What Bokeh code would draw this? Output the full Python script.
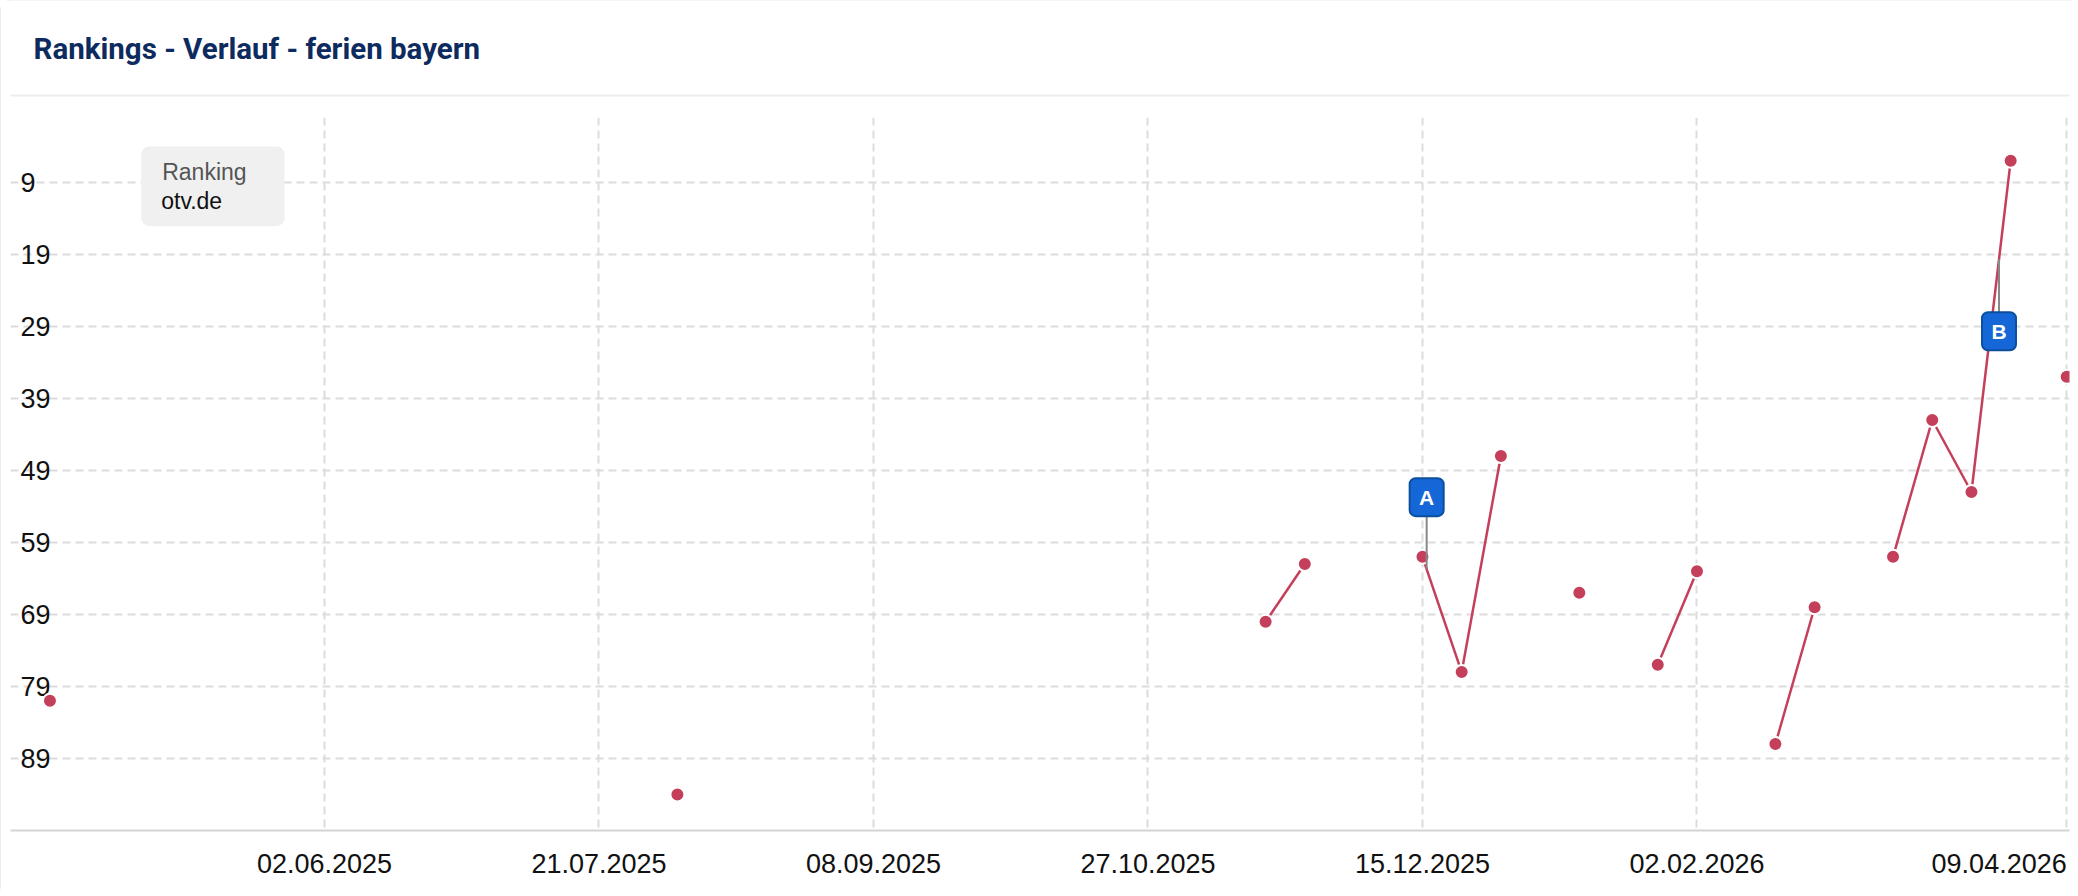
import calendar
from datetime import datetime
from bokeh.plotting import figure
from bokeh.models import Range1d, FixedTicker, Label, BoxAnnotation
from bokeh.core.properties import value
from bokeh.embed import file_html
from bokeh.resources import INLINE

# ---------------- data ----------------
title_text = "Rankings - Verlauf - ferien bayern"
legend_title = "Ranking"
legend_domain = "otv.de"

dates = ["2025-04-14", "2025-08-04", "2025-11-17", "2025-11-24", "2025-12-15",
         "2025-12-22", "2025-12-29", "2026-01-12", "2026-01-26", "2026-02-02",
         "2026-02-16", "2026-02-23", "2026-03-09", "2026-03-16", "2026-03-23",
         "2026-03-30", "2026-04-09"]
ranks = [81, 94, 70, 62, 61, 77, 47, 66, 76, 63, 87, 68, 61, 42, 52, 6, 36]

x_tick_dates = ["2025-06-02", "2025-07-21", "2025-09-08", "2025-10-27",
                "2025-12-15", "2026-02-02", "2026-04-09"]
x_tick_labels = ["02.06.2025", "21.07.2025", "08.09.2025", "27.10.2025",
                 "15.12.2025", "02.02.2026", "09.04.2026"]
y_ticks = [9, 19, 29, 39, 49, 59, 69, 79, 89]
y_tick_labels = ["9", "19", "29", "39", "49", "59", "69", "79", "89"]

flag_dates = ["2025-12-15 18:00", "2026-03-27 22:00"]
flag_letters = ["A", "B"]
flag_side = ["above", "below"]

# ---------------- helpers ----------------
def to_dt(s):
    fmt = "%Y-%m-%d %H:%M" if " " in s else "%Y-%m-%d"
    return datetime.strptime(s, fmt)

def to_ms(d):
    return calendar.timegm(d.timetuple()) * 1000

dts = [to_dt(s) for s in dates]
tick_dts = [to_dt(s) for s in x_tick_dates]
tick_ms = [to_ms(d) for d in tick_dts]

# ---------------- layout ----------------
W, H = 2078, 896
B_LEFT, B_RIGHT, B_BOTTOM = 10, 9, 66
HEADER = 117                     # data area starts this far below canvas top
Y_MIN, Y_MAX = 0, 99
plot_h = H - B_BOTTOM - HEADER
ppr = plot_h / (Y_MAX - Y_MIN)   # pixels per rank
y_top = Y_MIN - HEADER / ppr     # frame extends up to canvas top (header inside)

x_start = datetime(2025, 4, 6, 23)
x_end = datetime(2026, 4, 9, 12)
frame_w = W - B_LEFT - B_RIGHT

RED = "#c4405a"
GRID = "#dcdcdc"
LABEL_PX = 27
TXT_DY = 9   # label baseline correction (px)

p = figure(width=W, height=H, output_backend="svg", toolbar_location=None,
           x_axis_type="datetime", y_axis_location=None, title=None,
           x_range=Range1d(x_start, x_end), y_range=Range1d(Y_MAX, y_top),
           min_border_left=B_LEFT, min_border_right=B_RIGHT,
           min_border_top=0, min_border_bottom=B_BOTTOM)
p.outline_line_color = None
p.background_fill_color = "white"
p.border_fill_color = "white"
p.styles = {"border-radius": "10px", "box-shadow": "inset 0 0 0 1px #e6e6e6"}

# x axis: label of the last tick is right-aligned to its grid line,
# so its label anchor is shifted left by half the label width
span_ms = (x_end - x_start).total_seconds() * 1000
ms_per_px = span_ms / frame_w
last_label_w = 5.004 * LABEL_PX
label_pos = tick_ms[:-1] + [tick_ms[-1] - last_label_w / 2 * ms_per_px]
p.xaxis.ticker = FixedTicker(ticks=label_pos)
p.xaxis.major_label_overrides = {pos: lab for pos, lab in zip(label_pos, x_tick_labels)}
p.xaxis.axis_line_color = "#d4d4d4"
p.xaxis.axis_line_width = 2
p.xaxis.major_tick_line_color = None
p.xaxis.minor_tick_line_color = None
p.xaxis.major_label_text_font = "Liberation Sans"
p.xaxis.major_label_text_font_size = f"{LABEL_PX}px"
p.xaxis.major_label_text_color = "#111111"
p.xaxis.major_label_standoff = 17

p.xgrid.ticker = FixedTicker(ticks=tick_ms)
p.xgrid.grid_line_color = GRID
p.xgrid.grid_line_width = 2
p.xgrid.grid_line_dash = "8 5"
p.ygrid.ticker = FixedTicker(ticks=y_ticks)
p.ygrid.grid_line_color = GRID
p.ygrid.grid_line_width = 2
p.ygrid.grid_line_dash = "8 5"

# y tick labels inside the plot area
p.text(x=[x_start] * len(y_ticks), y=y_ticks, text=y_tick_labels,
       x_offset=10, text_align="left", text_baseline="middle",
       text_font=value("Liberation Sans"), text_font_size=f"{LABEL_PX}px",
       text_color="#111111")

# series: weekly points, lines only between consecutive weeks
segs_x, segs_y = [[dts[0]]], [[ranks[0]]]
for i in range(1, len(dts)):
    if (dts[i] - dts[i - 1]).days > 7:
        segs_x.append([])
        segs_y.append([])
    segs_x[-1].append(dts[i])
    segs_y[-1].append(ranks[i])
segs_x = [s for s, t in zip(segs_x, segs_y) if len(t) > 1]
segs_y = [t for t in segs_y if len(t) > 1]
p.multi_line(xs=segs_x, ys=segs_y, line_color=RED, line_width=2.5)
p.scatter(x=dts, y=ranks, size=14, fill_color=RED, line_color="white", line_width=2)

# flags on series
def series_at(d):
    for i in range(len(dts) - 1):
        if dts[i] <= d <= dts[i + 1]:
            f = (d - dts[i]).total_seconds() / (dts[i + 1] - dts[i]).total_seconds()
            return ranks[i] + (ranks[i + 1] - ranks[i]) * f
    return ranks[-1]

STEM = 53
BOX_W, BOX_H = 34, 38
fx, fy0, fy1, fby = [], [], [], []
for ds, side in zip(flag_dates, flag_side):
    d = to_dt(ds)
    ys = series_at(d)
    sgn = -1 if side == "above" else 1
    fx.append(d)
    fy0.append(ys)
    fy1.append(ys + sgn * STEM / ppr)
    fby.append(ys + sgn * (STEM + BOX_H / 2) / ppr)

p.segment(x0=fx, y0=fy0, x1=fx, y1=fy1, line_color="#888888", line_width=2)
p.rect(x=fx, y=fby, width=BOX_W, height=BOX_H, width_units="screen",
       height_units="screen", fill_color="#1566d6", line_color="#0c4f9c",
       line_width=2, border_radius=6)
p.text(x=fx, y=fby, text=flag_letters, text_align="center", text_baseline="middle",
       text_color="white", text_font=value("Liberation Sans"),
       text_font_style="bold", text_font_size="21px")

# header (inside the frame, covers the grid there): white panel, separator, title
p.add_layout(BoxAnnotation(left=0, right=W, top=0, bottom=HEADER,
                           left_units="canvas", right_units="canvas",
                           top_units="canvas", bottom_units="canvas",
                           fill_color="white", fill_alpha=1, line_color=None))
p.add_layout(BoxAnnotation(left=0, right=W, top=94, bottom=96,
                           left_units="canvas", right_units="canvas",
                           top_units="canvas", bottom_units="canvas",
                           fill_color="#eeeeee", fill_alpha=1, line_color=None))
p.add_layout(Label(x=33, y=57.3 - TXT_DY, x_units="canvas", y_units="canvas",
                   text=title_text, text_font="Roboto", text_font_style="bold",
                   text_font_size="29.5px", text_color="#0d2b5e",
                   text_baseline="alphabetic"))

# legend box
p.add_layout(BoxAnnotation(left=140.7, right=284, top=146, bottom=225.7,
                           left_units="canvas", right_units="canvas",
                           top_units="canvas", bottom_units="canvas",
                           fill_color="#f0f0f0", fill_alpha=1, line_color=None,
                           border_radius=8))
p.add_layout(Label(x=161.7, y=180.7 - TXT_DY, x_units="canvas", y_units="canvas",
                   text=legend_title, text_font="Liberation Sans",
                   text_font_size="23px", text_color="#555555",
                   text_baseline="alphabetic"))
p.add_layout(Label(x=160.7, y=209 - TXT_DY, x_units="canvas", y_units="canvas",
                   text=legend_domain, text_font="Liberation Sans",
                   text_font_size="23px", text_color="#111111",
                   text_baseline="alphabetic"))

open("out.html", "w").write(file_html(p, INLINE))
